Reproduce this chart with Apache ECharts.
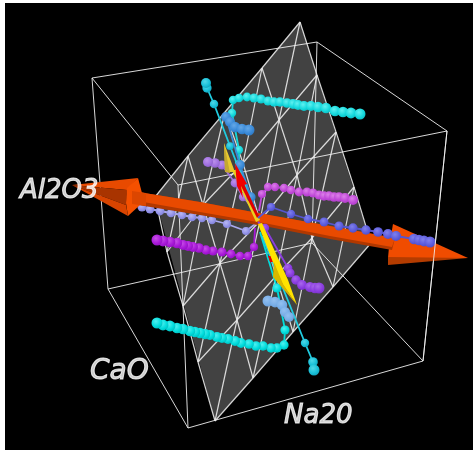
<!DOCTYPE html>
<html><head><meta charset="utf-8">
<style>html,body{margin:0;padding:0;background:#fff}#c{width:473px;height:450px}</style>
<script src="https://cdn.jsdelivr.net/npm/echarts@6/dist/echarts.min.js"></script>
</head><body><div id="c"></div>
<script>
// ---- Values (projected plane units) ----
const axisTitles = [["Al2O3", 20, 204, 26], ["CaO", 90, 386, 28], ["Na20", 284, 429, 26]];

const boxCorners = {
  A:[92,78], B:[317,42], C:[447,131], D:[178,185],
  a:[108,289], b:[312,243], c:[423,361], d:[188,428]
};
const boxEdges = ["AB","BC","CD","DA","ab","bc","cd","da","Aa","Bb","Cc","Dd"];

const meshRow0 = [[300,22],[317,75],[336,132],[354,187],[371,243]];
const meshRow1 = [[262,68],[279,120],[297,175],[312,238],[333,287]];
const meshRow2 = [[225,112],[243,163],[260,221],[276,276],[293,332]];
const meshRow3 = [[188,156],[203,205],[220,263],[237,320],[253,378]];
const meshRow4 = [[155,197],[167,252],[183,306],[198,362],[215,421]];
const planeOutline = [[300,22],[371,243],[215,421],[155,197]];

const cyanUpper = [[258,218],[239,164],[239,150],[232,113],[233,100],[239,98],[247,97],[254,98],[261,99],[268,101],[274,102],[280,102],[287,103],[293,104],[298,105],[304,106],[311,106],[318,107],[326,108],[335,111],[343,112],[351,113],[360,114]];
const cyanLeftUp = [[258,218],[230,146],[214,104],[207,88],[206,83]];
const cyanLower = [[260,232],[277,288],[285,330],[284,345],[277,348],[271,348],[263,346],[256,346],[249,344],[241,343],[235,341],[228,339],[222,338],[217,337],[210,335],[205,334],[200,333],[195,332],[190,331],[183,329],[177,328],[170,326],[163,325],[157,323]];
const cyanRightDown = [[262,236],[305,343],[313,362],[314,370]];
const blueUpper = [[257,215],[251,197],[240,165],[226,117],[230,122],[235,127],[242,129],[249,130]];
const blueLower = [[268,301],[275,302],[282,305],[285,312],[289,317]];
const lavenderUpper = [[256,212],[243,197],[235,183],[222,165],[215,163],[208,162]];
const violetLower = [[258,222],[265,228],[288,268],[290,273],[296,280],[302,285],[310,287],[315,288],[319,288]];
const magentaUpper = [[259,211],[262,194],[268,187],[275,187],[284,188],[291,190],[299,192],[307,192],[313,193],[319,195],[324,196],[329,196],[334,197],[339,197],[345,198],[353,200]];
const magentaLower = [[255,228],[254,247],[248,256],[240,256],[231,254],[222,252],[213,251],[206,250],[199,248],[193,247],[188,246],[183,245],[177,243],[170,242],[163,241],[157,240]];
const blueRight = [[258,218],[271,207],[291,214],[308,219],[324,222],[339,226],[353,228],[366,230],[378,232],[388,234],[396,236],[414,239],[419,240],[424,241],[430,242]];
const paleLeft = [[258,222],[246,231],[227,224],[212,220],[202,218],[192,217],[182,215],[171,213],[160,211],[150,209],[142,207]];

const orangeShaft = [[132,191],[200,202],[258,213],[330,226],[395,238],[392,250],[330,239],[269,227],[200,215],[132,204]];
const orangeShaftLit = [[132,191],[200,202],[258,213],[330,226],[395,238],[392,247],[330,236],[269,224],[200,212],[132,200]];
const coneLeftUpper = [[72,185],[138,178],[127,190]];
const coneLeftMid = [[72,185],[127,190],[126,205]];
const coneLeftLow = [[72,185],[126,205],[128,216]];
const coneLeftBase = [[138,178],[142,193],[140,205],[128,216],[126,203],[127,188]];
const shaftStub = [[132,191],[146,193],[146,206],[132,204]];
const coneRightLit = [[393,224],[468,258],[388,258],[389,247]];
const coneRightDark = [[388,257],[468,258],[388,265]];
const yellowUpperCone = [[224,143],[225,172],[236,172],[238,180]];
const yellowUpperDark = [[224,143],[225,172],[230,173]];
const yellowUpperShaft = [[232,170],[236,170],[260,220],[256,222]];
const yellowLit = [[258,224],[262,223],[288,280],[297,305],[283,285],[274,265]];
const yellowDark = [[274,262],[273,277],[297,305],[283,284]];
const redUpperCone = [[235,163],[247,184],[241,186],[243,198],[237,186]];
const redUpperShaft = [[240,184],[244,184],[259,216],[257,218]];
const redLower = [[268,256],[273,256],[274,262],[270,262]];

// ---- Helpers ----
const meshRows = [meshRow0, meshRow1, meshRow2, meshRow3, meshRow4];
const meshSegs = [];
meshRows.forEach((r,i)=>r.forEach((p,j)=>{
  if(j<4) meshSegs.push([...p,...r[j+1]]);
  if(i<4) meshSegs.push([...p,...meshRows[i+1][j]]);
  if(i<4&&j<4) meshSegs.push([...p,...meshRows[i+1][j+1]]);
}));
const boxSegs = boxEdges.map(e=>[...boxCorners[e[0]],...boxCorners[e[1]]]);

function poly(name,color,pts,z){
  return {type:'custom',name,z,silent:true,clip:false,animation:false,
    data:[pts.flat()],
    encode:{x:0,y:1},
    renderItem(params,api){
      const points=[];
      for(let k=0;k<pts.length;k++) points.push(api.coord([api.value(2*k),api.value(2*k+1)]));
      return {type:'polygon',shape:{points},style:{fill:color,stroke:null}};
    }};
}
function segs(name,color,width,rows,z){
  return {type:'custom',name,z,silent:true,clip:false,animation:false,
    data:rows,encode:{x:0,y:1},
    renderItem(params,api){
      const a=api.coord([api.value(0),api.value(1)]),b=api.coord([api.value(2),api.value(3)]);
      return {type:'line',shape:{x1:a[0],y1:a[1],x2:b[0],y2:b[1]},style:{stroke:color,lineWidth:width}};
    }};
}
function ball(light,base,dark){
  return new echarts.graphic.RadialGradient(0.4,0.35,0.75,[
    {offset:0,color:light},{offset:0.6,color:base},{offset:1,color:dark}]);
}
function chain(name,pts,sizes,light,base,dark,lineCol,z,skip){
  const n=pts.length-1;
  return {type:'line',name,z,silent:true,clip:false,animation:false,
    data:pts,symbol:'circle',
    symbolSize:(v,p)=>p.dataIndex<(skip||0)?0:sizes[0]+(sizes[1]-sizes[0])*p.dataIndex/n,
    showSymbol:true,showAllSymbols:true,
    lineStyle:{color:lineCol,width:1.8},
    itemStyle:{color:ball(light,base,dark),borderWidth:0,opacity:1}};
}

const option={
  animation:false,
  backgroundColor:'#ffffff',
  grid:{left:5,top:3,right:0,bottom:0,show:true,backgroundColor:'#000000',borderWidth:0},
  xAxis:{type:'value',min:5,max:473,show:false},
  yAxis:{type:'value',min:3,max:450,inverse:true,show:false},
  series:[
    poly('plane','#424242',planeOutline,1),
    segs('mesh','rgba(235,235,235,0.9)',1.2,meshSegs,2),
    segs('box','rgba(240,240,240,0.9)',1,boxSegs,3),

    chain('paleLeft',paleLeft,[8,9],'#b8b8f4','#9292e8','#7a7ad0','#a9a9ee',4,1),
    poly('coneLeftUpper','#e84a00',coneLeftUpper,5),
    poly('coneLeftMid','#a83400',coneLeftMid,5),
    poly('coneLeftLow','#d84400',coneLeftLow,5),
    poly('coneRightLit','#f04c00',coneRightLit,5),
    poly('coneRightDark','#b43c00',coneRightDark,5),
    poly('shaftDark','#b03800',orangeShaft,6),
    poly('shaftLit','#e84a00',orangeShaftLit,6),
    poly('coneLeftBase','#f45000',coneLeftBase,6),
    poly('shaftStub','#dc4600',shaftStub,6),

    chain('lavenderUpper',lavenderUpper,[8,10],'#bc90ec','#a070e0','#8a5cc4','#a070e0',7,1),
    chain('blueLower',blueLower,[11,10],'#94c0f0','#78aee8','#6698d0','#78aee8',7),
    chain('cyanUpper',cyanUpper,[8,11],'#60f0f0','#14d8dc','#0cb4bc','#14d8dc',7,1),
    chain('cyanLeftUp',cyanLeftUp,[7,10],'#50d8e8','#18c0d8','#109cb4','#20cce0',7,1),
    chain('cyanLower',cyanLower,[9,11],'#50f0f0','#00dcdc','#00b4b8','#00dcdc',7,1),
    chain('cyanRightDown',cyanRightDown,[7,11],'#50d8e8','#18c0d8','#109cb4','#20cce0',7,1),
    chain('blueUpper',blueUpper,[9,11],'#64a8e8','#3a8ad8','#2c74bc','#3a8ad8',8,1),
    chain('magentaUpper',magentaUpper,[8,10],'#dc80e8','#c048d8','#a83cc0','#c048d8',7,1),
    chain('magentaLower',magentaLower,[8,11],'#c850e8','#a818d8','#8c10bc','#a818d8',7,1),
    chain('violetLower',violetLower,[8,11],'#a868ec','#8a3ce0','#7430c0','#8a3ce0',8,1),

    poly('yellowUpperCone','#e8c830',yellowUpperCone,8),
    poly('yellowUpperDark','#c4a830',yellowUpperDark,8),
    poly('yellowUpperShaft','#e8d020',yellowUpperShaft,8),
    poly('redUpperShaft','#e00000',redUpperShaft,9),
    poly('redUpperCone','#f00000',redUpperCone,9),
    poly('redLower','#e00000',redLower,8),
    poly('yellowLit','#ffe400',yellowLit,9),
    poly('yellowDark','#d8b800',yellowDark,9),

    chain('blueRight',blueRight,[8,11],'#8080ec','#5c5cdc','#4a4ac0','#5555d0',11,1),
    segs('boxFront','rgba(240,240,240,0.85)',1,[[...boxCorners.C,...boxCorners.c]],12),
    {type:'scatter',name:'titles',z:20,silent:true,clip:false,animation:false,
     data:axisTitles.map(t=>({value:[t[1],t[2]],name:t[0],
       label:{fontSize:t[3],lineHeight:t[3]}})),
     symbolSize:0,
     label:{show:true,position:[0,0],formatter:p=>p.name,color:'#fff',
       fontFamily:'DejaVu Sans',fontStyle:'italic',fontWeight:'normal',
       textBorderColor:'#fff',textBorderWidth:1,align:'left',verticalAlign:'bottom'}}
  ]
};
const chart=echarts.init(document.getElementById('c'),null,{renderer:'canvas'});
chart.setOption(option);
</script></body></html>
